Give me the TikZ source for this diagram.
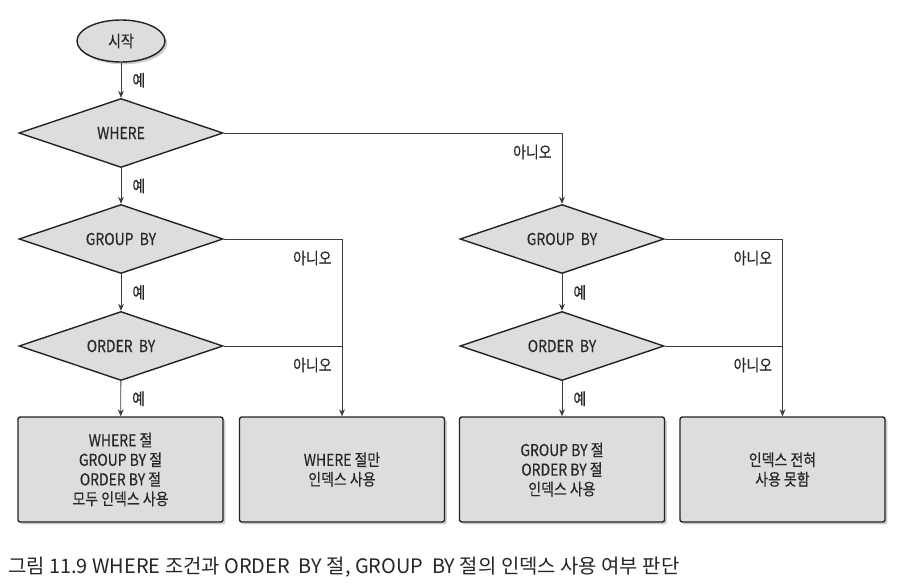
\documentclass[tikz,border=0pt]{standalone}
\usepackage{fontspec}
\newfontfamily\diafont[FakeStretch=0.85, FakeBold=0.4]{Noto Sans CJK KR}
\newfontfamily\capfont{Noto Sans CJK KR}
\usepackage{tikz}
\usetikzlibrary{
  shapes.geometric,
  arrows.meta,
  positioning,
  shadows,
  calc
}
\definecolor{flowfill}{RGB}{221,221,221}
\definecolor{flowline}{RGB}{35,35,35}
\definecolor{flowtext}{RGB}{40,40,40}
\definecolor{linkgray}{RGB}{60,60,60}

\begin{document}
\begin{tikzpicture}[
  x=0.03cm, y=-0.03cm,
  every node/.style={font=\diafont\fontsize{14}{16.7}\selectfont, text=flowtext},
  terminal/.style={ellipse, minimum width=2.64cm, minimum height=1.26cm,
    draw=flowline, line width=1.2pt, fill=flowfill,
    drop shadow={shadow xshift=2pt, shadow yshift=-2pt, fill=black!40}},
  decision/.style={diamond, aspect=2.96, inner sep=0pt, minimum width=6.12cm,
    minimum height=2.07cm, draw=flowline, line width=1.2pt, fill=flowfill},
  result/.style={rectangle, rounded corners=2pt, minimum width=6.15cm,
    minimum height=3.15cm, align=center, draw=flowline, line width=1.2pt, fill=flowfill,
    drop shadow={shadow xshift=2pt, shadow yshift=-2pt, fill=black!40}},
  arr/.style={-{Stealth[length=6pt,width=5pt]}, line width=0.7pt, draw=linkgray},
  link/.style={line width=0.7pt, draw=linkgray},
  yes/.style={anchor=west, inner sep=0pt, xshift=0.33cm},
  no/.style={anchor=east, inner sep=0pt, xshift=-0.3cm, yshift=-0.57cm}
]
  \useasboundingbox (0,0) rectangle (900,586);

  \node[terminal] (start) at (121,41) {시작};
  \node[decision] (where) at (121,133) {WHERE};
  \node[decision] (grpL) at (121,239) {GROUP\ \ BY};
  \node[decision] (ordL) at (121,346) {ORDER\ \ BY};
  \node[decision] (grpR) at (562,239) {GROUP\ \ BY};
  \node[decision] (ordR) at (562,346) {ORDER\ \ BY};

  \node[result] (allidx) at (120.5,469.5) {WHERE 절\\GROUP BY 절\\ORDER BY 절\\모두 인덱스 사용};
  \node[result] (whereonly) at (342,469.5) {WHERE 절만\\인덱스 사용};
  \node[result] (grpord) at (562,469.5) {GROUP BY 절\\ORDER BY 절\\인덱스 사용};
  \node[result] (noidx) at (782.5,469.5) {인덱스 전혀\\사용 못함};

  \node[anchor=west, inner sep=0pt, text=black!85,
    font=\capfont\fontsize{17}{20}\selectfont] (caption) at (8,567)
    {그림 11.9 WHERE 조건과 ORDER\ \ BY 절, GROUP\ \ BY 절의 인덱스 사용 여부 판단};

  % yes branches
  \foreach \f/\t in {start/where,where/grpL,grpL/ordL,ordL/allidx,
                      grpR/ordR,ordR/grpord} {
    \draw[arr] (\f) -- node[yes] {예} (\t);
  }

  % no branches
  \draw[arr] (where.east) -| node[no, pos=0.5] {아니오} (grpR.north);
  \draw[arr] (grpL.east) -| node[no, pos=0.5] {아니오} (whereonly.north);
  \draw[link] (ordL.east) -- node[no, at end] {아니오} (ordL.east -| whereonly.north);
  \draw[arr] (grpR.east) -| node[no, pos=0.5] {아니오} (noidx.north);
  \draw[link] (ordR.east) -- node[no, at end] {아니오} (ordR.east -| noidx.north);
\end{tikzpicture}
\end{document}
